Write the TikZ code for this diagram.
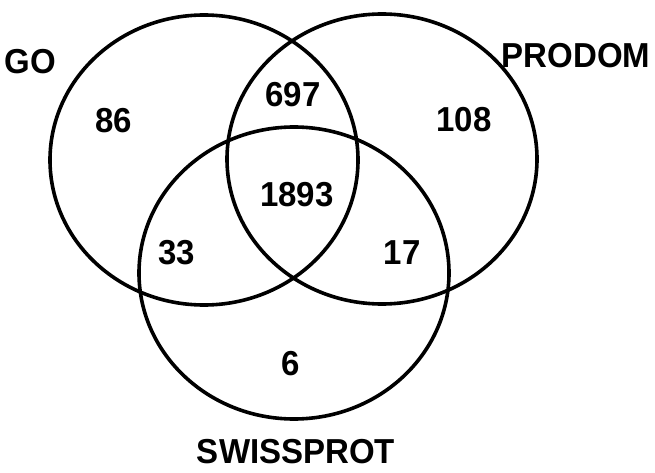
\documentclass[tikz,border=0pt]{standalone}
\usepackage{fontspec}
\setmainfont{Liberation Sans}
\begin{document}
\begin{tikzpicture}[x=1pt,y=-1pt,
  setline/.style={line width=3.6pt},
  lbl/.style={font=\fontsize{33}{38}\selectfont\bfseries, inner sep=0pt, anchor=center, yscale=1.05, transform shape}]
\useasboundingbox (0,0) rectangle (655,473);
% sets
\draw[setline] (204,160) ellipse [x radius=154, y radius=145];
\draw[setline] (382,159) ellipse [x radius=155, y radius=145];
\draw[setline] (294,273) ellipse [x radius=155, y radius=146];
% set names
\node[lbl] (go) at (30,62) {GO};
\node[lbl] (prodom) at (576,56) {PRODOM};
\node[lbl] (swissprot) at (296,452) {SWISSPROT};
% counts
\node[lbl] (n86) at (114,121) {86};
\node[lbl] (n697) at (293,95) {697};
\node[lbl] (n108) at (464,120) {108};
\node[lbl] (n1893) at (297,195) {1893};
\node[lbl] (n33) at (177,253) {33};
\node[lbl] (n17) at (402,253) {17};
\node[lbl] (n6) at (291,364) {6};
\end{tikzpicture}
\end{document}
